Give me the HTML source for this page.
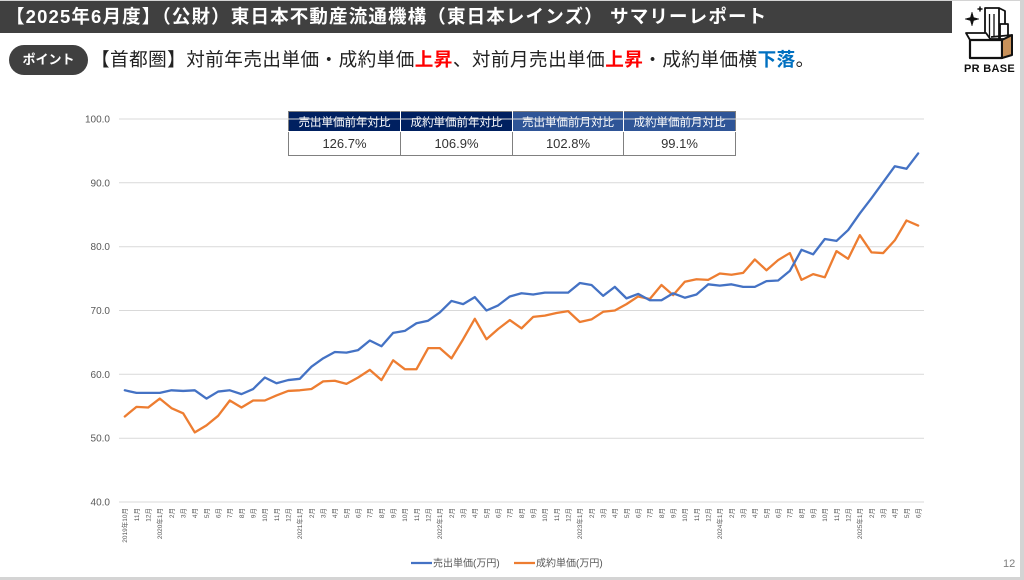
<!DOCTYPE html>
<html><head><meta charset="utf-8">
<style>
html,body{margin:0;padding:0;}
body{width:1024px;height:580px;background:#d4d4d4;position:relative;overflow:hidden;font-family:"Liberation Sans","Noto Sans CJK JP",sans-serif;}
#slide{position:absolute;left:0;top:1px;width:1020px;height:576px;background:#fff;}
.bar{position:absolute;left:0;top:1px;width:952px;height:32px;background:#404040;color:#fff;font-weight:bold;font-size:18.5px;line-height:32px;white-space:nowrap;}
.bar span{position:absolute;left:6px;top:0;letter-spacing:1.15px;}
.pill{position:absolute;left:9px;top:45px;width:79px;height:30px;border-radius:15px;background:#404040;color:#fff;font-weight:bold;font-size:13px;line-height:30px;text-align:center;}
.point{position:absolute;left:91px;top:46px;font-size:18.6px;line-height:28px;color:#222;white-space:nowrap;letter-spacing:0.45px;}
.red{color:#ff0000;font-weight:bold;}
.blue{color:#0070c0;font-weight:bold;}
table{position:absolute;left:288px;top:111px;border-collapse:collapse;font-family:"Liberation Sans","Noto Sans CJK JP",sans-serif;}
th{height:19px;padding:0;color:#fff;font-weight:normal;font-size:11.5px;text-align:center;border:1px solid #fff;border-top:1px solid #7f7f7f;}
th.d{background:#002060;}
th.m{background:#2f5597;}
td{height:23px;padding:0;font-size:13px;color:#333;text-align:center;border:1px solid #808080;}
th:first-child{border-left:1px solid #7f7f7f;}
th:last-child{border-right:1px solid #7f7f7f;}
svg{position:absolute;left:0;top:0;}
</style></head>
<body>
<div id="slide"></div>
<div class="bar"><span>【2025年6月度】（公財）東日本不動産流通機構（東日本レインズ） サマリーレポート</span></div>
<div class="pill">ポイント</div>
<div class="point">【首都圏】対前年売出単価・成約単価<span class="red">上昇</span>、対前月売出単価<span class="red">上昇</span>・成約単価横<span class="blue">下落</span>。</div>

<table>
<tr><th class="d" style="width:111px">売出単価前年対比</th><th class="d" style="width:111px">成約単価前年対比</th><th class="m" style="width:110px">売出単価前月対比</th><th class="m" style="width:111px">成約単価前月対比</th></tr>
<tr><td>126.7%</td><td>106.9%</td><td>102.8%</td><td>99.1%</td></tr>
</table>

<svg width="1024" height="580" viewBox="0 0 1024 580" style="pointer-events:none">
<g stroke="#d9d9d9" stroke-width="1">
<line x1="119" y1="119" x2="924" y2="119"/>
<line x1="119" y1="182.8" x2="924" y2="182.8"/>
<line x1="119" y1="246.7" x2="924" y2="246.7"/>
<line x1="119" y1="310.5" x2="924" y2="310.5"/>
<line x1="119" y1="374.3" x2="924" y2="374.3"/>
<line x1="119" y1="438.2" x2="924" y2="438.2"/>
<line x1="119" y1="502" x2="924" y2="502"/>
</g>
<g font-family="Liberation Sans, sans-serif" font-size="10" fill="#595959" text-anchor="end">
<text x="110" y="122.5">100.0</text>
<text x="110" y="186.3">90.0</text>
<text x="110" y="250.2">80.0</text>
<text x="110" y="314">70.0</text>
<text x="110" y="377.8">60.0</text>
<text x="110" y="441.7">50.0</text>
<text x="110" y="505.5">40.0</text>
</g>
<g transform="translate(124.8,757.33) scale(11.667,-6.3833)" fill="none" stroke-linejoin="round" stroke-linecap="round">
<polyline vector-effect="non-scaling-stroke" stroke="#ed7d31" stroke-width="2.3" points="0,53.4 1,54.9 2,54.8 3,56.2 4,54.7 5,53.9 6,50.9 7,52.0 8,53.5 9,55.9 10,54.8 11,55.9 12,55.9 13,56.7 14,57.4 15,57.5 16,57.7 17,58.9 18,59.0 19,58.5 20,59.5 21,60.7 22,59.1 23,62.2 24,60.8 25,60.8 26,64.1 27,64.1 28,62.5 29,65.5 30,68.7 31,65.5 32,67.1 33,68.5 34,67.2 35,69.0 36,69.2 37,69.6 38,69.9 39,68.2 40,68.6 41,69.8 42,70.0 43,71.0 44,72.2 45,71.8 46,74.0 47,72.4 48,74.5 49,74.9 50,74.8 51,75.8 52,75.6 53,75.9 54,78.0 55,76.3 56,77.9 57,79.0 58,74.8 59,75.7 60,75.2 61,79.3 62,78.1 63,81.8 64,79.1 65,79.0 66,81.0 67,84.1 68,83.3"/>
<polyline vector-effect="non-scaling-stroke" stroke="#4472c4" stroke-width="2.3" points="0,57.5 1,57.1 2,57.1 3,57.1 4,57.5 5,57.4 6,57.5 7,56.2 8,57.3 9,57.5 10,56.9 11,57.7 12,59.5 13,58.6 14,59.1 15,59.3 16,61.2 17,62.5 18,63.5 19,63.4 20,63.8 21,65.3 22,64.4 23,66.5 24,66.8 25,68.0 26,68.4 27,69.7 28,71.5 29,71.0 30,72.1 31,70.0 32,70.8 33,72.2 34,72.7 35,72.5 36,72.8 37,72.8 38,72.8 39,74.3 40,74.0 41,72.3 42,73.7 43,71.9 44,72.6 45,71.6 46,71.6 47,72.7 48,72.0 49,72.5 50,74.1 51,73.9 52,74.1 53,73.7 54,73.7 55,74.6 56,74.7 57,76.2 58,79.5 59,78.8 60,81.2 61,80.9 62,82.6 63,85.2 64,87.6 65,90.1 66,92.6 67,92.2 68,94.6"/>
</g>
<g font-family="Liberation Sans, Noto Sans CJK JP, sans-serif" font-size="6.5" fill="#595959" text-anchor="end">
<text transform="translate(127.1,508) rotate(-90)">2019年10月</text>
<text transform="translate(138.8,508) rotate(-90)">11月</text>
<text transform="translate(150.4,508) rotate(-90)">12月</text>
<text transform="translate(162.1,508) rotate(-90)">2020年1月</text>
<text transform="translate(173.8,508) rotate(-90)">2月</text>
<text transform="translate(185.4,508) rotate(-90)">3月</text>
<text transform="translate(197.1,508) rotate(-90)">4月</text>
<text transform="translate(208.8,508) rotate(-90)">5月</text>
<text transform="translate(220.4,508) rotate(-90)">6月</text>
<text transform="translate(232.1,508) rotate(-90)">7月</text>
<text transform="translate(243.8,508) rotate(-90)">8月</text>
<text transform="translate(255.4,508) rotate(-90)">9月</text>
<text transform="translate(267.1,508) rotate(-90)">10月</text>
<text transform="translate(278.8,508) rotate(-90)">11月</text>
<text transform="translate(290.4,508) rotate(-90)">12月</text>
<text transform="translate(302.1,508) rotate(-90)">2021年1月</text>
<text transform="translate(313.8,508) rotate(-90)">2月</text>
<text transform="translate(325.4,508) rotate(-90)">3月</text>
<text transform="translate(337.1,508) rotate(-90)">4月</text>
<text transform="translate(348.8,508) rotate(-90)">5月</text>
<text transform="translate(360.4,508) rotate(-90)">6月</text>
<text transform="translate(372.1,508) rotate(-90)">7月</text>
<text transform="translate(383.8,508) rotate(-90)">8月</text>
<text transform="translate(395.4,508) rotate(-90)">9月</text>
<text transform="translate(407.1,508) rotate(-90)">10月</text>
<text transform="translate(418.8,508) rotate(-90)">11月</text>
<text transform="translate(430.4,508) rotate(-90)">12月</text>
<text transform="translate(442.1,508) rotate(-90)">2022年1月</text>
<text transform="translate(453.8,508) rotate(-90)">2月</text>
<text transform="translate(465.4,508) rotate(-90)">3月</text>
<text transform="translate(477.1,508) rotate(-90)">4月</text>
<text transform="translate(488.8,508) rotate(-90)">5月</text>
<text transform="translate(500.4,508) rotate(-90)">6月</text>
<text transform="translate(512.1,508) rotate(-90)">7月</text>
<text transform="translate(523.8,508) rotate(-90)">8月</text>
<text transform="translate(535.4,508) rotate(-90)">9月</text>
<text transform="translate(547.1,508) rotate(-90)">10月</text>
<text transform="translate(558.8,508) rotate(-90)">11月</text>
<text transform="translate(570.4,508) rotate(-90)">12月</text>
<text transform="translate(582.1,508) rotate(-90)">2023年1月</text>
<text transform="translate(593.8,508) rotate(-90)">2月</text>
<text transform="translate(605.4,508) rotate(-90)">3月</text>
<text transform="translate(617.1,508) rotate(-90)">4月</text>
<text transform="translate(628.8,508) rotate(-90)">5月</text>
<text transform="translate(640.4,508) rotate(-90)">6月</text>
<text transform="translate(652.1,508) rotate(-90)">7月</text>
<text transform="translate(663.8,508) rotate(-90)">8月</text>
<text transform="translate(675.4,508) rotate(-90)">9月</text>
<text transform="translate(687.1,508) rotate(-90)">10月</text>
<text transform="translate(698.8,508) rotate(-90)">11月</text>
<text transform="translate(710.4,508) rotate(-90)">12月</text>
<text transform="translate(722.1,508) rotate(-90)">2024年1月</text>
<text transform="translate(733.8,508) rotate(-90)">2月</text>
<text transform="translate(745.4,508) rotate(-90)">3月</text>
<text transform="translate(757.1,508) rotate(-90)">4月</text>
<text transform="translate(768.8,508) rotate(-90)">5月</text>
<text transform="translate(780.4,508) rotate(-90)">6月</text>
<text transform="translate(792.1,508) rotate(-90)">7月</text>
<text transform="translate(803.8,508) rotate(-90)">8月</text>
<text transform="translate(815.4,508) rotate(-90)">9月</text>
<text transform="translate(827.1,508) rotate(-90)">10月</text>
<text transform="translate(838.8,508) rotate(-90)">11月</text>
<text transform="translate(850.4,508) rotate(-90)">12月</text>
<text transform="translate(862.1,508) rotate(-90)">2025年1月</text>
<text transform="translate(873.8,508) rotate(-90)">2月</text>
<text transform="translate(885.4,508) rotate(-90)">3月</text>
<text transform="translate(897.1,508) rotate(-90)">4月</text>
<text transform="translate(908.8,508) rotate(-90)">5月</text>
<text transform="translate(920.4,508) rotate(-90)">6月</text>
</g>
<!-- legend -->
<line x1="411" y1="563" x2="432" y2="563" stroke="#4472c4" stroke-width="2.3"/>
<line x1="514" y1="563" x2="535" y2="563" stroke="#ed7d31" stroke-width="2.3"/>
<g font-family="Liberation Sans, Noto Sans CJK JP, sans-serif" font-size="10" fill="#595959">
<text x="433" y="566.5">売出単価(万円)</text>
<text x="536" y="566.5">成約単価(万円)</text>
</g>
<text x="1003" y="567" font-family="Liberation Sans, sans-serif" font-size="11" fill="#7f7f7f">12</text>
<!-- logo -->
<g stroke="#111" stroke-width="1.8" stroke-linejoin="round">
<path d="M972,12 L973.6,17.5 L979,19 L973.6,20.5 L972,26 L970.4,20.5 L965,19 L970.4,17.5 Z" fill="#111" stroke-width="0.5"/>
<path d="M980,6 L980.8,8.2 L983,9 L980.8,9.8 L980,12 L979.2,9.8 L977,9 L979.2,8.2 Z" fill="#111" stroke-width="0.4"/>
<rect x="985" y="8" width="14" height="31" fill="#fff"/>
<line x1="989.5" y1="14" x2="989.5" y2="37" stroke-width="1.3"/>
<line x1="994" y1="14" x2="994" y2="37" stroke-width="1.3"/>
<path d="M999,8 L1005,11 L1005,39" fill="none"/>
<rect x="1000" y="24" width="8" height="15" fill="#fff"/>
<path d="M966,33 L986,33 L991,40 L970,40 Z" fill="#fff"/>
<rect x="970" y="40" width="32" height="18" fill="#fff" stroke-width="2.2"/>
<path d="M1002,40 L1012,35 L1012,55 L1002,58 Z" fill="#c8915a" stroke-width="2"/>
<path d="M991,37 L1012,35" fill="none"/>
</g>
<text x="989.5" y="72" text-anchor="middle" font-family="Liberation Sans, sans-serif" font-size="11" font-weight="bold" fill="#111" letter-spacing="0.3">PR BASE</text>
</svg>
</body></html>
